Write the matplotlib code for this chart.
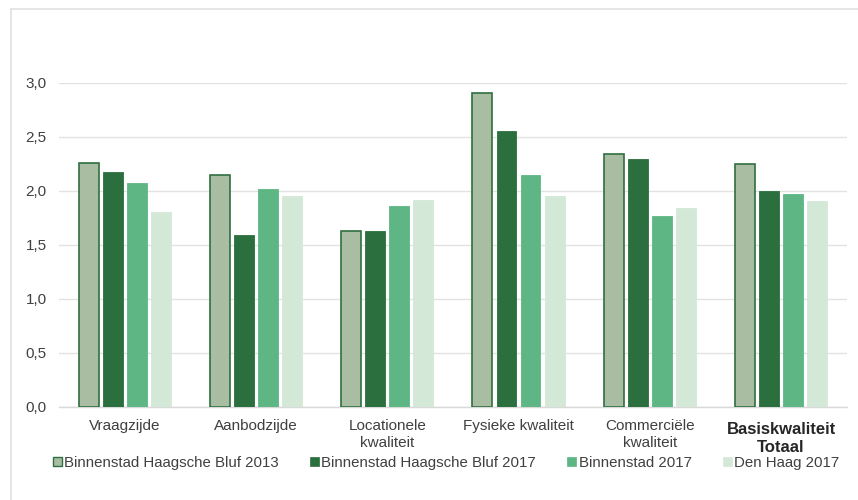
import matplotlib
matplotlib.use("Agg")
import matplotlib.pyplot as plt
import numpy as np
from matplotlib.lines import Line2D
from matplotlib.patches import Patch
import matplotlib.transforms as mtransforms

plt.rcParams['font.family'] = ['Liberation Sans', 'DejaVu Sans']

categories = ["Vraagzijde", "Aanbodzijde", "Locationele\nkwaliteit", "Fysieke kwaliteit",
              "Commerciële\nkwaliteit", "Basiskwaliteit\nTotaal"]
series_names = ["Binnenstad Haagsche Bluf 2013", "Binnenstad Haagsche Bluf 2017",
                "Binnenstad 2017", "Den Haag 2017"]
bluf_2013 = [2.26, 2.15, 1.63, 2.91, 2.34, 2.25]
bluf_2017 = [2.18, 1.59, 1.63, 2.56, 2.30, 2.00]
binnenstad_2017 = [2.07, 2.02, 1.86, 2.15, 1.77, 1.97]
den_haag_2017 = [1.81, 1.95, 1.92, 1.95, 1.84, 1.91]
yticks = [0.0, 0.5, 1.0, 1.5, 2.0, 2.5, 3.0]
ytick_labels = ["0,0", "0,5", "1,0", "1,5", "2,0", "2,5", "3,0"]

colors = ["#a9bda3", "#2b6f3e", "#5db684", "#d4e8d8"]
edges = ["#2f7040", "#2b6f3e", "#5db684", "#d4e8d8"]

fig = plt.figure(figsize=(8.58, 5.0), dpi=100)
ax = fig.add_axes([0.0688, 0.186, 0.918, 0.648])

x = np.arange(len(categories))
pitch = 0.183
width = 0.152
data = [bluf_2013, bluf_2017, binnenstad_2017, den_haag_2017]
for i, vals in enumerate(data):
    off = (i - 1.5) * pitch
    ax.bar(x + off, vals, width, color=colors[i], edgecolor=edges[i],
           linewidth=1.2 if i == 0 else 0.6, zorder=3)

ax.set_xlim(-0.5, len(categories) - 0.5)
ax.set_ylim(0, 3.0)
ax.set_yticks(yticks)
ax.set_yticklabels(ytick_labels, fontsize=11, color="#404040")
ax.grid(axis="y", color="#e2e2e2", linewidth=1.0, zorder=0)
ax.set_axisbelow(True)
for s in ["top", "right", "left"]:
    ax.spines[s].set_visible(False)
ax.spines["bottom"].set_color("#d9d9d9")
ax.spines["bottom"].set_linewidth(1.0)
ax.tick_params(axis="y", length=0, pad=9)
ax.tick_params(axis="x", length=0)
ax.set_xticks(x)
ax.set_xticklabels([])

trans = mtransforms.blended_transform_factory(ax.transData, ax.transAxes)
for i, cat in enumerate(categories):
    last = i == len(categories) - 1
    ax.text(x[i], 0, cat, transform=trans + mtransforms.ScaledTranslation(
                0, (-10.5 if last else -8.8) / 72, fig.dpi_scale_trans),
            ha="center", va="top", fontsize=12 if last else 11,
            fontweight="bold" if last else "normal",
            color="#262626" if last else "#404040",
            linespacing=1.28 if last else 1.25, multialignment="center")

handles = [Patch(facecolor=colors[i], edgecolor=edges[i], linewidth=1.0 if i == 0 else 0.5)
           for i in range(4)]
leg = fig.legend(handles, series_names, loc="center", bbox_to_anchor=(0.52, 0.074), ncol=4,
                 frameon=False, fontsize=10.8, handlelength=0.6, handleheight=0.6,
                 handletextpad=0.15, columnspacing=2.1, labelcolor="#404040")

# chart frame (left and top)
fig.add_artist(Line2D([0.0128, 0.0128], [0.0, 0.982], color="#e0e0e0", linewidth=1.2,
                      transform=fig.transFigure))
fig.add_artist(Line2D([0.0128, 1.0], [0.982, 0.982], color="#e0e0e0", linewidth=1.2,
                      transform=fig.transFigure))

fig.savefig("out.png", dpi=100)
